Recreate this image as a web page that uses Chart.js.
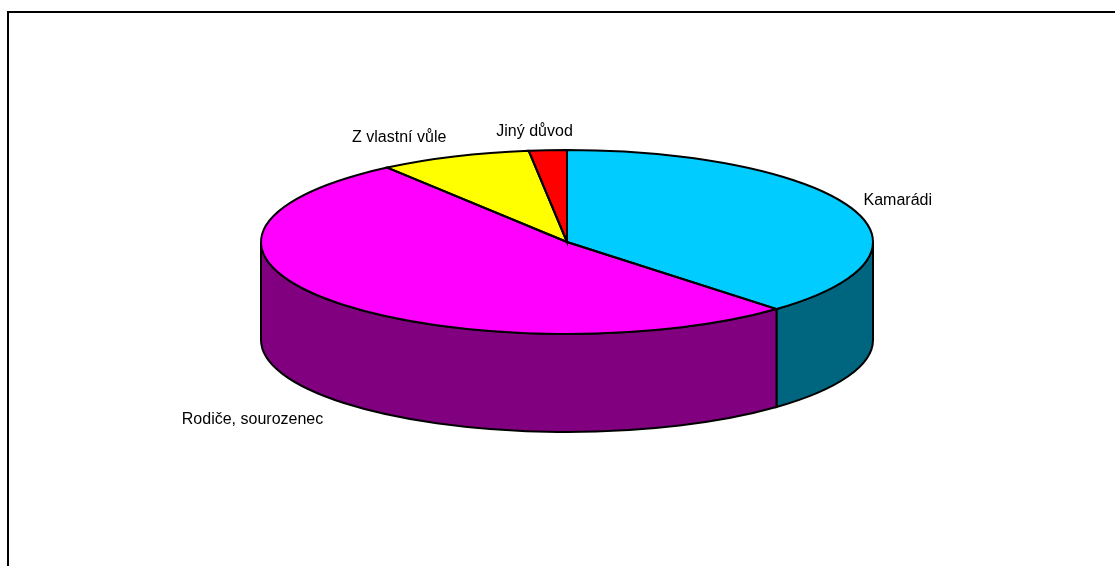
<!DOCTYPE html>
<html lang="cs">
<head>
<meta charset="utf-8">
<title>Graf</title>
<script src="https://cdn.jsdelivr.net/npm/chart.js@4/dist/chart.umd.js"></script>
<style>
  html, body { margin: 0; padding: 0; background: #fff; overflow: hidden; }
  canvas { display: block; }
</style>
</head>
<body>
<canvas id="graf" width="1115" height="566"></canvas>
<script>
const categories = ['Kamarádi', 'Rodiče, sourozenec', 'Z vlastní vůle', 'Jiný důvod'];
const values = [38, 52, 8, 2];
const topColors = ['#00CCFF', '#FF00FF', '#FFFF00', '#FF0000'];
const sideColors = ['#006680', '#800080', '#808000', '#800000'];

// Pie geometry: the round pie is squashed into an ellipse and given a side wall
const RADIUS = 306;
const SQUASH = 92 / 306;
const DEPTH = 98;

// Where each label sits relative to the rim point at the middle of its slice
const labelPlacement = [
  { dx: 12, dy: -8, align: 'left' },
  { dx: -8, dy: 119, align: 'right' },
  { dx: -8, dy: -19, align: 'right' },
  { dx: 25, dy: -19, align: 'right' }
];

function outline(ctx) {
  ctx.strokeStyle = '#000';
  ctx.lineWidth = 2;
  ctx.stroke();
}

const pie3d = {
  id: 'pie3d',
  beforeDatasetsDraw(chart) {
    const ctx = chart.ctx;
    const arcs = chart.getDatasetMeta(0).data;

    // Side wall, only the part that faces the viewer
    arcs.forEach((arc, i) => {
      const from = Math.max(arc.startAngle, 0);
      const to = Math.min(arc.endAngle, Math.PI);
      if (to <= from) return;
      const ry = RADIUS * SQUASH;
      ctx.beginPath();
      ctx.ellipse(arc.x, arc.y + DEPTH, RADIUS, ry, 0, from, to);
      ctx.ellipse(arc.x, arc.y, RADIUS, ry, 0, to, from, true);
      ctx.closePath();
      ctx.fillStyle = sideColors[i];
      ctx.fill();
      outline(ctx);
    });

    // Squash the library's own slices
    const c = arcs[0];
    ctx.save();
    ctx.translate(c.x, c.y);
    ctx.scale(1, SQUASH);
    ctx.translate(-c.x, -c.y);
  },
  afterDatasetsDraw(chart) {
    const ctx = chart.ctx;
    ctx.restore();
    const arcs = chart.getDatasetMeta(0).data;
    const ry = RADIUS * SQUASH;

    // Slice outlines drawn unsquashed so the line keeps an even width
    arcs.forEach(arc => {
      ctx.beginPath();
      ctx.moveTo(arc.x, arc.y);
      ctx.ellipse(arc.x, arc.y, RADIUS, ry, 0, arc.startAngle, arc.endAngle);
      ctx.closePath();
      outline(ctx);
    });

    // Labels
    ctx.fillStyle = '#000';
    ctx.font = '16px "Liberation Sans", Arial, sans-serif';
    ctx.textBaseline = 'middle';
    arcs.forEach((arc, i) => {
      const mid = (arc.startAngle + arc.endAngle) / 2;
      const p = labelPlacement[i];
      ctx.textAlign = p.align;
      ctx.fillText(categories[i],
        arc.x + Math.cos(mid) * RADIUS + p.dx,
        arc.y + Math.sin(mid) * ry + p.dy);
    });

    // Chart frame, open on the right and at the bottom
    ctx.beginPath();
    ctx.moveTo(8, 566);
    ctx.lineTo(8, 12);
    ctx.lineTo(1115, 12);
    ctx.strokeStyle = '#000';
    ctx.lineWidth = 2;
    ctx.stroke();
  }
};

new Chart(document.getElementById('graf'), {
  type: 'pie',
  data: {
    labels: categories,
    datasets: [{
      data: values,
      backgroundColor: topColors,
      borderWidth: 0,
      clip: false
    }]
  },
  options: {
    responsive: false,
    animation: false,
    radius: RADIUS,
    layout: { padding: { left: 19, right: 0, top: 0, bottom: 82 } },
    plugins: {
      legend: { display: false },
      tooltip: { enabled: false }
    }
  },
  plugins: [pie3d]
});
</script>
</body>
</html>
